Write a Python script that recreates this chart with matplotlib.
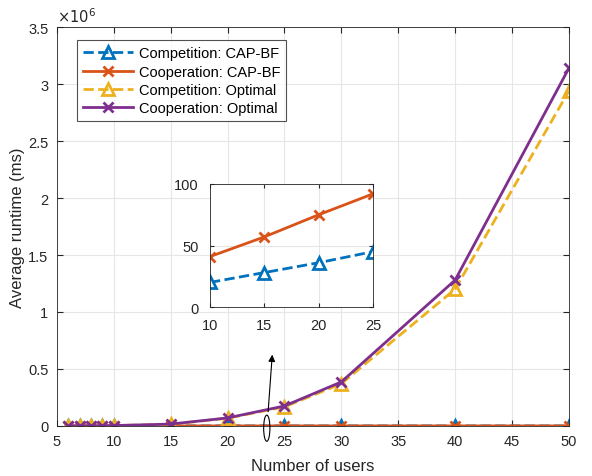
import matplotlib.pyplot as plt
from matplotlib.patches import Ellipse
from matplotlib.ticker import FuncFormatter

plt.rcParams['font.family'] = ['Liberation Sans', 'DejaVu Sans']

users = [6, 7, 8, 9, 10, 15, 20, 25, 30, 40, 50]
comp_capbf = [12, 14, 16, 18, 20, 28, 36, 45, 55, 75, 100]
coop_capbf = [25, 29, 33, 37, 41, 57, 75, 92, 110, 150, 190]
comp_opt = [40, 120, 400, 1200, 3000, 14000, 68000, 167000, 370000, 1200000, 2940000]
coop_opt = [45, 130, 450, 1300, 3300, 16000, 70000, 175000, 386000, 1280000, 3140000]

inset_users = [10, 15, 20, 25]
inset_comp = [20, 28, 36, 45]
inset_coop = [41, 57, 75, 92]

C_BLUE = '#0072BD'
C_RED = '#D95319'
C_YEL = '#EDB120'
C_PUR = '#7E2F8E'
TXT = '#262626'

fig = plt.figure(figsize=(5.92, 4.77), dpi=100)
ax = fig.add_axes([0.096, 0.105, 0.865, 0.836])

ax.plot(users, comp_capbf, ls='--', color=C_BLUE, lw=2, marker='^', ms=8, mfc='none', mew=2,
        label='Competition: CAP-BF')
ax.plot(users, coop_capbf, ls='-', color=C_RED, lw=2, marker='x', ms=7, mew=2,
        label='Cooperation: CAP-BF')
ax.plot(users, comp_opt, ls='--', color=C_YEL, lw=2, marker='^', ms=8, mfc='none', mew=2,
        label='Competition: Optimal')
ax.plot(users, coop_opt, ls='-', color=C_PUR, lw=2, marker='x', ms=7, mew=2,
        label='Cooperation: Optimal')

ax.set_xlim(5, 50)
ax.set_ylim(0, 3.5e6)
ax.set_xticks(range(5, 51, 5))
ax.set_yticks([i * 0.5e6 for i in range(8)])
ax.yaxis.set_major_formatter(FuncFormatter(lambda v, p: '%g' % (v / 1e6)))
ax.text(0.0, 1.005, r'$\times10^{6}$', transform=ax.transAxes, ha='left', va='bottom',
        fontsize=10.5, color=TXT)
ax.grid(True, color='#e6e6e6', lw=0.8)
ax.set_axisbelow(True)
ax.tick_params(direction='in', top=True, right=True, colors=TXT, labelsize=10.5, length=4, pad=6)
for s in ax.spines.values():
    s.set_color('#262626')
    s.set_linewidth(0.6)
ax.set_xlabel('Number of users', fontsize=12, color=TXT, labelpad=7)
ax.set_ylabel('Average runtime (ms)', fontsize=12, color=TXT, labelpad=2)

leg = ax.legend(loc='upper left', bbox_to_anchor=(0.026, 0.985), fontsize=10.5, frameon=True,
                fancybox=False, edgecolor='#262626', handlelength=3.4, borderpad=0.4,
                labelspacing=0.3, handletextpad=0.4)
leg.get_frame().set_linewidth(0.8)

# zoom mark and arrow
ax.add_patch(Ellipse((23.45, -0.02e6), 0.55, 0.23e6, fill=False, color='black', lw=0.8,
                     clip_on=False, zorder=5))
ax.annotate('', xy=(23.95, 0.65e6), xytext=(23.55, 0.1e6),
            arrowprops=dict(arrowstyle='-|>', color='black', lw=0.8, mutation_scale=10))

# inset
axi = fig.add_axes([210 / 592, 1 - 308 / 477, 163 / 592, 123 / 477])
axi.plot(inset_users, inset_comp, ls='--', color=C_BLUE, lw=2, marker='^', ms=8, mfc='white', mew=2)
axi.plot(inset_users, inset_coop, ls='-', color=C_RED, lw=2, marker='x', ms=7, mew=2)
axi.set_xlim(10, 25)
axi.set_ylim(0, 100)
axi.set_xticks([10, 15, 20, 25])
axi.set_yticks([0, 50, 100])
axi.grid(True, color='#e6e6e6', lw=0.8)
axi.set_axisbelow(True)
axi.tick_params(direction='in', top=True, right=True, colors=TXT, labelsize=10.5, length=3, pad=8)
for s in axi.spines.values():
    s.set_color('#262626')
    s.set_linewidth(0.6)

fig.savefig('out.png', dpi=100)
